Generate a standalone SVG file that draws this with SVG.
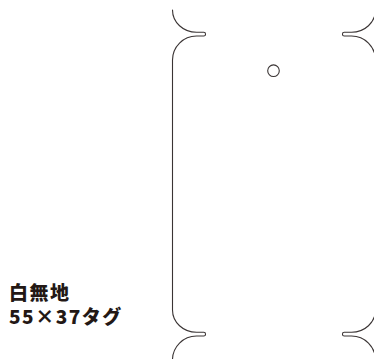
<svg xmlns="http://www.w3.org/2000/svg" width="374" height="359" viewBox="0 0 374 359">
<style>
.outline{fill:none;stroke:#3a3434;stroke-width:1.1;stroke-linecap:round;stroke-linejoin:round}
.label{font-family:"Noto Sans CJK JP","Noto Sans",sans-serif;font-weight:900;font-size:19px;fill:#231815;letter-spacing:1.5px}
</style>
<rect width="374" height="359" fill="#ffffff"/>
<g id="tag">
<path class="outline" d="M172.5,10 A24,22.3 0 0 0 196.5,32.3 L203.7,32.3 A1.85,1.85 0 0 1 203.7,36 L196.5,36 A24,24 0 0 0 172.5,60 L172.5,310 A24,22.3 0 0 0 196.5,332.3 L203.7,332.3 A1.85,1.85 0 0 1 203.7,336 L196.5,336 A24,24 0 0 0 172.5,360"/>
<path class="outline" d="M375.5,10 A24,22.3 0 0 1 351.5,32.3 L344.3,32.3 A1.85,1.85 0 0 0 344.3,36 L351.5,36 A24,24 0 0 1 375.5,60 L375.5,310 A24,22.3 0 0 1 351.5,332.3 L344.3,332.3 A1.85,1.85 0 0 0 344.3,336 L351.5,336 A24,24 0 0 1 375.5,360"/>
</g>
<g id="hole">
<circle class="outline" cx="273.5" cy="70.7" r="5.8"/>
</g>
<g id="label">
<text class="label" x="9" y="299.5">白無地</text>
<text class="label" x="9" y="324">55×37タグ</text>
</g>
</svg>
